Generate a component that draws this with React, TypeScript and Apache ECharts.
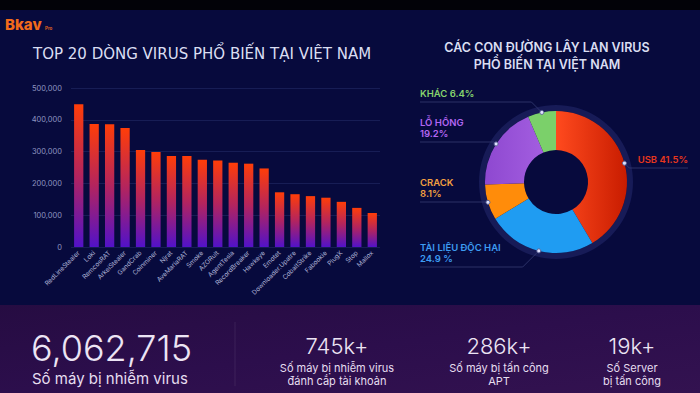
import React, { useEffect, useRef } from "react";
import * as echarts from "echarts";

// ---------- data ----------
const virusNames = [
  "RedLineStealer", "Loki", "RemcosRAT", "ArkeiStealer", "GandCrab",
  "Coinminer", "Njrat", "AveMariaRAT", "Smoke", "AZORult",
  "AgentTesla", "RecordBreaker", "Hawkeye", "Emotet", "Downloader.Upatre",
  "CobaltStrike", "Fabookie", "PlugX", "Stop", "Mallox",
];
const virusCounts = [
  449000, 387000, 386000, 374000, 305000,
  299000, 286000, 286000, 274000, 272000,
  265000, 262000, 247000, 172000, 166000,
  160000, 155000, 142000, 123000, 107000,
];
const yAxisMax = 500000;
const yAxisStep = 100000;

const vectorNames = ["USB", "TÀI LIỆU ĐỘC HẠI", "CRACK", "LỖ HỔNG", "KHÁC"];
const vectorShares = [41.5, 24.9, 8.1, 19.2, 6.4];
const vectorShareText = ["41.5%", "24.9 %", "8.1%", "19.2%", "6.4%"];

const statValues = ["6,062,715", "745k+", "286k+", "19k+"];
const statCaptions = [
  "Số máy bị nhiễm virus",
  "Số máy bị nhiễm virus\nđánh cắp tài khoản",
  "Số máy bị tấn công\nAPT",
  "Số Server\nbị tấn công",
];

const barTitle = "TOP 20 DÒNG VIRUS PHỔ BIẾN TẠI VIỆT NAM";
const pieTitle = "CÁC CON ĐƯỜNG LÂY LAN VIRUS\nPHỔ BIẾN TẠI VIỆT NAM";

// ---------- layout / style ----------
const FONT = "Inter, 'Open Sans', 'Noto Sans', sans-serif";
const TITLE_FONT = "'DejaVu Sans', Inter, sans-serif";
const PIE_CX = 556;
const PIE_CY = 182;
const PIE_R = 71;
const PIE_R0 = 32;
const labelLineY = [168, 267, 202, 142, 102];
const labelTwoLines = [false, true, true, true, false];
const labelColors = ["#e8361c", "#3d9cf2", "#f2a040", "#b266f2", "#86d46e"];
const sliceColors: any[] = [
  new echarts.graphic.LinearGradient(0, 0, 1, 0, [
    { offset: 0, color: "#ff4a1e" },
    { offset: 1, color: "#c81c00" },
  ]),
  "#1f9cf2",
  "#ff8c0a",
  new echarts.graphic.LinearGradient(0, 0, 1, 0, [
    { offset: 0, color: "#8e48d0" },
    { offset: 1, color: "#a35ee0" },
  ]),
  "#7bd06a",
];
const statCenters = [0, 337, 499, 632];

export default function App() {
  const ref = useRef<HTMLDivElement>(null);

  useEffect(() => {
    document.body.style.margin = "0";
    if (!ref.current) return;
    const chart = echarts.init(ref.current, null, { renderer: "svg" });

    const total = vectorShares.reduce((a, b) => a + b, 0);
    const dots: any[] = [];
    let cum = 0;
    vectorShares.forEach((v) => {
      const mid = (cum + v / 2) / total;
      cum += v;
      const ang = (90 - mid * 360) * (Math.PI / 180);
      dots.push({
        type: "circle",
        z: 100,
        shape: { cx: PIE_CX + PIE_R * Math.cos(ang), cy: PIE_CY - PIE_R * Math.sin(ang), r: 2 },
        style: { fill: "#dfe3ff", stroke: "#5a6094", lineWidth: 1 },
      });
    });

    const statGraphics: any[] = [];
    statValues.forEach((v, i) => {
      if (i === 0) {
        statGraphics.push({
          type: "text",
          x: 31,
          y: 348,
          style: {
            text: v,
            fill: "#ece4f4",
            font: `300 36px ${FONT}`,
            align: "left",
            verticalAlign: "middle",
          },
        });
        statGraphics.push({
          type: "text",
          x: 32,
          y: 378,
          style: {
            text: statCaptions[i],
            fill: "#e6def0",
            font: `400 15px ${FONT}`,
            align: "left",
            verticalAlign: "middle",
          },
        });
      } else {
        statGraphics.push({
          type: "text",
          x: statCenters[i],
          y: 346,
          style: {
            text: v,
            fill: "#ece4f4",
            font: `300 22px ${FONT}`,
            align: "center",
            verticalAlign: "middle",
          },
        });
        statGraphics.push({
          type: "text",
          x: statCenters[i],
          y: 361,
          style: {
            text: statCaptions[i],
            fill: "#e6def0",
            font: `400 11px ${FONT}`,
            lineHeight: 13,
            align: "center",
            verticalAlign: "top",
          },
        });
      }
    });

    const option: any = {
      animation: false,
      backgroundColor: "#070a3d",
      textStyle: { fontFamily: FONT },
      graphic: [
        { type: "rect", z: -10, shape: { x: 0, y: 0, width: 700, height: 10 }, style: { fill: "#020208" } },
        {
          type: "rect",
          z: -10,
          shape: { x: 0, y: 305, width: 700, height: 88 },
          style: {
            fill: new echarts.graphic.LinearGradient(0, 0, 1, 1, [
              { offset: 0, color: "#260c42" },
              { offset: 0.5, color: "#2c0e4c" },
              { offset: 1, color: "#331250" },
            ]),
          },
        },
        { type: "line", shape: { x1: 235, y1: 322, x2: 235, y2: 386 }, style: { stroke: "rgba(255,255,255,0.08)", lineWidth: 1 } },
        {
          type: "text",
          x: 5,
          y: 24,
          style: { text: "Bkav", fill: "#f26a1b", font: `800 15px ${FONT}`, verticalAlign: "middle" },
        },
        {
          type: "text",
          x: 45,
          y: 28,
          style: { text: "Pro", fill: "#f26a1b", font: `600 4.5px ${FONT}`, verticalAlign: "middle" },
        },
        {
          type: "text",
          x: 33,
          y: 54,
          style: { text: barTitle, fill: "#dadef2", font: `400 15px ${TITLE_FONT}`, verticalAlign: "middle" },
        },
        {
          type: "text",
          x: 547,
          y: 56,
          style: {
            text: pieTitle,
            fill: "#dadef2",
            font: `600 12.5px ${FONT}`,
            lineHeight: 17,
            align: "center",
            verticalAlign: "middle",
          },
        },
        {
          type: "ring",
          z: -1,
          shape: { cx: PIE_CX, cy: PIE_CY, r: PIE_R + 6, r0: PIE_R },
          style: { fill: "#171b57" },
        },
        ...dots,
        ...statGraphics,
      ],
      grid: { left: 71, right: 320, top: 88, bottom: 146 },
      xAxis: {
        type: "category",
        data: virusNames,
        axisLine: { show: false },
        axisTick: { show: false },
        axisLabel: {
          interval: 0,
          rotate: 45,
          color: "#aeb3d6",
          fontSize: 6.5,
          margin: 5,
          fontFamily: FONT,
        },
      },
      yAxis: {
        type: "value",
        min: 0,
        max: yAxisMax,
        interval: yAxisStep,
        axisLine: { show: false },
        axisTick: { show: false },
        splitLine: { lineStyle: { color: "#171d55", width: 1 } },
        axisLabel: {
          color: "#8e94c0",
          fontSize: 7.5,
          margin: 9,
          fontFamily: FONT,
          formatter: (v: number) => v.toLocaleString("en-US"),
        },
      },
      series: [
        {
          type: "bar",
          data: virusCounts,
          barWidth: "60%",
          itemStyle: {
            color: new echarts.graphic.LinearGradient(0, 0, 0, 1, [
              { offset: 0, color: "#ff3d08" },
              { offset: 0.5, color: "#b3245e" },
              { offset: 1, color: "#5212c8" },
            ]),
          },
          emphasis: { disabled: true },
        },
        {
          type: "pie",
          center: [PIE_CX, PIE_CY],
          radius: [PIE_R0, PIE_R],
          startAngle: 90,
          clockwise: true,
          avoidLabelOverlap: false,
          emphasis: { disabled: true },
          data: vectorNames.map((n, i) => ({
            name: n,
            value: vectorShares[i],
            itemStyle: { color: sliceColors[i] },
            label: {
              color: labelColors[i],
              formatter: labelTwoLines[i]
                ? `${n}\n${vectorShareText[i]}`
                : `${n} ${vectorShareText[i]}`,
            },
          })),
          label: {
            show: true,
            position: "outside",
            fontSize: 9.5,
            fontWeight: 600,
            fontFamily: FONT,
            lineHeight: 11,
          },
          labelLine: {
            show: true,
            length: 10,
            length2: 10,
            lineStyle: { color: "#353b72", width: 0.8 },
          },
          labelLayout: (params: any) => {
            const i = params.dataIndex;
            let c = 0;
            for (let k = 0; k < i; k++) c += vectorShares[k];
            const mid = (c + vectorShares[i] / 2) / total;
            const ang = (90 - mid * 360) * (Math.PI / 180);
            const px = PIE_CX + PIE_R * Math.cos(ang);
            const py = PIE_CY - PIE_R * Math.sin(ang);
            const ly = labelLineY[i];
            const dy = Math.abs(py - ly);
            if (px > PIE_CX) {
              return {
                x: 688,
                y: ly - 3,
                align: "right",
                verticalAlign: "bottom",
                labelLinePoints: [[px, py], [px + dy, ly], [688, ly]],
              };
            }
            return {
              x: 420,
              y: ly - 3,
              align: "left",
              verticalAlign: "bottom",
              labelLinePoints: [[px, py], [px - dy, ly], [420, ly]],
            };
          },
        },
      ],
    };

    chart.setOption(option);
    return () => chart.dispose();
  }, []);

  return (
    <div
      ref={ref}
      style={{ position: "absolute", left: 0, top: 0, width: 700, height: 393 }}
    />
  );
}
